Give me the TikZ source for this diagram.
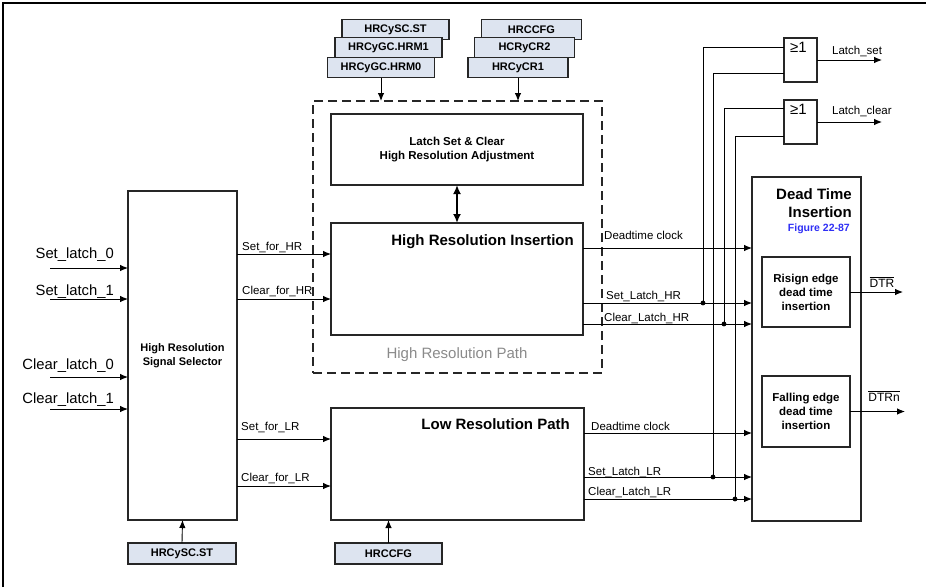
\documentclass[tikz,border=0pt]{standalone}
\usepackage{fontspec}
\setmainfont{Liberation Sans}
\usepackage{xcolor}
\usepackage{tikz}
\usetikzlibrary{arrows.meta, positioning, calc}

\definecolor{regfill}{HTML}{DDE4F0}
\definecolor{figblue}{HTML}{2F2FF5}
\definecolor{pathgray}{HTML}{8A8A8A}
\newcommand{\inpfont}{\fontsize{14.8}{16}\selectfont}
\newcommand{\lblfont}{\fontsize{11.5}{13}\selectfont}
\newcommand{\boxfont}{\fontsize{11.5}{14}\selectfont\bfseries}
\newcommand{\titlefont}{\fontsize{15}{18}\selectfont\bfseries}

\begin{document}
\begin{tikzpicture}[x=1pt, y=-1pt,
        box/.style={rectangle, draw=black!85, line width=1.1pt, inner sep=0pt, outer sep=0pt, align=center},
        reg/.style={box, fill=regfill, font=\fontsize{11}{13}\selectfont\bfseries, minimum width=107pt, minimum height=20.5pt},
        gate/.style={box, minimum width=33pt, minimum height=44pt},
        sig/.style={-{Latex[length=8pt,width=6.5pt]}, line width=0.9pt},
        wire/.style={line width=0.9pt},
        lbl/.style={font=\lblfont, inner sep=0pt, anchor=base west}]
        \useasboundingbox (0,0) rectangle (926,587);
        \draw[line width=1.2pt] (3,587) -- (3,3) -- (926,3);

        % control registers
        \node (regST) [reg] at (395.5,29.5) {HRCySC.ST};
        \node (regHRM1) [reg] at (388.5,47.5) {HRCyGC.HRM1};
        \node (regHRM0) [reg] at (381,67.5) {HRCyGC.HRM0};
        \node (regCFG) [reg, minimum width=100pt] at (531.5,29.5) {HRCCFG};
        \node (regCR2) [reg, minimum width=100pt] at (524.5,47.5) {HCRyCR2};
        \node (regCR1) [reg, minimum width=100pt] at (518,67.5) {HRCyCR1};

        % high resolution path
        \node (hrp) [box, line width=2.2pt, dash pattern=on 9pt off 5pt, minimum width=289pt, minimum height=272pt] at (457.5,237) {};
        \node (hrpLabel) [font=\fontsize{15}{18}\selectfont, text=pathgray] at (457,355) {High Resolution Path};
        \node (adj) [box, font=\boxfont, minimum width=252pt, minimum height=71pt] at (457,149.5) {Latch Set \& Clear\\High Resolution Adjustment};
        \node (hri) [box, minimum width=252pt, minimum height=112pt] at (457,279) {};
        \node (hriTitle) [font=\titlefont, anchor=base east, inner sep=0pt] at (574,245.5) {High Resolution Insertion};

        % low resolution path
        \node (lrp) [box, minimum width=253pt, minimum height=112pt] at (457.5,464) {};
        \node (lrpTitle) [font=\titlefont, anchor=base east, inner sep=0pt] at (570,429.5) {Low Resolution Path};

        % signal selector
        \node (sel) [box, font=\fontsize{11}{14}\selectfont\bfseries, minimum width=109pt, minimum height=329pt] at (182.5,355.5) {High Resolution\\Signal Selector};
        \node (selReg) [reg, minimum width=108pt, minimum height=21pt] at (182,553.5) {HRCySC.ST};
        \node (lrpReg) [reg, minimum width=107pt, minimum height=21pt] at (388.5,553.5) {HRCCFG};

        % dead time insertion
        \node (dti) [box, minimum width=109pt, minimum height=344pt] at (806.5,349) {};
        \node (dtiTitle) [font=\titlefont, align=right, anchor=north east, inner sep=0pt] at (852,188) {Dead Time\\Insertion};
        \node (dtiFig) [font=\fontsize{10.5}{12}\selectfont\bfseries, text=figblue, anchor=base east, inner sep=0pt] at (850,231) {Figure 22-87};
        \node (rise) [box, font=\boxfont, minimum width=88pt, minimum height=70pt] at (806,292) {Risign edge\\dead time\\insertion};
        \node (fall) [box, font=\boxfont, minimum width=88pt, minimum height=71pt] at (806,411.5) {Falling edge\\dead time\\insertion};

        % OR gates
        \node (g1) [gate] at (800.5,60) {};
        \node (g2) [gate] at (800.5,122) {};
        \node (g1Sym) [anchor=north west, font=\fontsize{15}{18}\selectfont, inner sep=0pt] at (790,42) {≥1};
        \node (g2Sym) [anchor=north west, font=\fontsize{15}{18}\selectfont, inner sep=0pt] at (790,104) {≥1};

        % inputs
        \coordinate (inS0) at (50,268);
        \coordinate (inS1) at (50,299);
        \coordinate (inC0) at (50,377);
        \coordinate (inC1) at (50,409);
        \draw[sig] (inS0) -- (inS0 -| sel.west);
        \draw[sig] (inS1) -- (inS1 -| sel.west);
        \draw[sig] (inC0) -- (inC0 -| sel.west);
        \draw[sig] (inC1) -- (inC1 -| sel.west);
        \node (lS0) [font=\inpfont, anchor=base east, inner sep=0pt] at (114,258) {Set\_latch\_0};
        \node (lS1) [font=\inpfont, anchor=base east, inner sep=0pt] at (114,295) {Set\_latch\_1};
        \node (lC0) [font=\inpfont, anchor=base east, inner sep=0pt] at (114,369) {Clear\_latch\_0};
        \node (lC1) [font=\inpfont, anchor=base east, inner sep=0pt] at (114,403) {Clear\_latch\_1};

        % selector to paths
        \draw[sig] (sel.east |- 0,254) -- (hri.west |- 0,254);
        \draw[sig] (sel.east |- 0,299) -- (hri.west |- 0,299);
        \draw[sig] (sel.east |- 0,439) -- (lrp.west |- 0,439);
        \draw[sig] (sel.east |- 0,486) -- (lrp.west |- 0,486);
        \node (lSetHR) [lbl] at (242,250) {Set\_for\_HR};
        \node (lClrHR) [lbl] at (242,294) {Clear\_for\_HR};
        \node (lSetLR) [lbl] at (241,430) {Set\_for\_LR};
        \node (lClrLR) [lbl] at (241,481) {Clear\_for\_LR};

        % registers to blocks
        \draw[sig] (regHRM0.south) -- (regHRM0.south |- hrp.north);
        \draw[sig] (regCR1.south) -- (regCR1.south |- hrp.north);
        \draw[sig] (selReg.north) -- (sel.south);
        \draw[sig] (lrpReg.north) -- (lrpReg.north |- lrp.south);
        \draw[{Latex[length=9pt,width=8pt]}-{Latex[length=9pt,width=8pt]}, line width=1.8pt] (adj.south) -- (hri.north);

        % paths to dead time insertion
        \coordinate (jSetHR) at (703,303);
        \coordinate (jClrHR) at (724,324);
        \coordinate (jSetLR) at (713,477);
        \coordinate (jClrLR) at (735,499);
        \draw[sig] (hri.east |- 0,248) -- (dti.west |- 0,248);
        \draw[sig] (hri.east |- jSetHR) -- (dti.west |- jSetHR);
        \draw[sig] (hri.east |- jClrHR) -- (dti.west |- jClrHR);
        \draw[sig] (lrp.east |- 0,433) -- (dti.west |- 0,433);
        \draw[sig] (lrp.east |- jSetLR) -- (dti.west |- jSetLR);
        \draw[sig] (lrp.east |- jClrLR) -- (dti.west |- jClrLR);
        \node (lDtHR) [lbl] at (604,239) {Deadtime clock};
        \node (lSlHR) [lbl] at (606,299) {Set\_Latch\_HR};
        \node (lClHR) [lbl] at (604,321) {Clear\_Latch\_HR};
        \node (lDtLR) [lbl] at (591,430) {Deadtime clock};
        \node (lSlLR) [lbl] at (588,475) {Set\_Latch\_LR};
        \node (lClLR) [lbl] at (588,495) {Clear\_Latch\_LR};

        % latch signals to OR gates
        \draw[wire] (jSetHR) |- (g1.west |- 0,47);
        \draw[wire] (jSetLR) |- (g1.west |- 0,73);
        \draw[wire] (jClrHR) |- (g2.west |- 0,108);
        \draw[wire] (jClrLR) |- (g2.west |- 0,136);
        \fill (jSetHR) circle (2.4pt);
        \fill (jClrHR) circle (2.4pt);
        \fill (jSetLR) circle (2.4pt);
        \fill (jClrLR) circle (2.4pt);

        % outputs
        \coordinate (outSet) at (882,60);
        \coordinate (outClr) at (882,122);
        \coordinate (outDTR) at (903,292);
        \coordinate (outDTRn) at (905,411.5);
        \draw[sig] (g1.east) -- (outSet);
        \draw[sig] (g2.east) -- (outClr);
        \draw[sig] (rise.east) -- (outDTR);
        \draw[sig] (fall.east) -- (outDTRn);
        \node (lSet) [lbl] at (832,54) {Latch\_set};
        \node (lClr) [lbl] at (832,114) {Latch\_clear};
        \node (lDTR) [font=\fontsize{12}{14}\selectfont, anchor=base, inner sep=0pt] at (882,287) {$\overline{\mbox{DTR}}$};
        \node (lDTRn) [font=\fontsize{12}{14}\selectfont, anchor=base, inner sep=0pt] at (884,401) {$\overline{\mbox{DTRn}}$};
\end{tikzpicture}
\end{document}
